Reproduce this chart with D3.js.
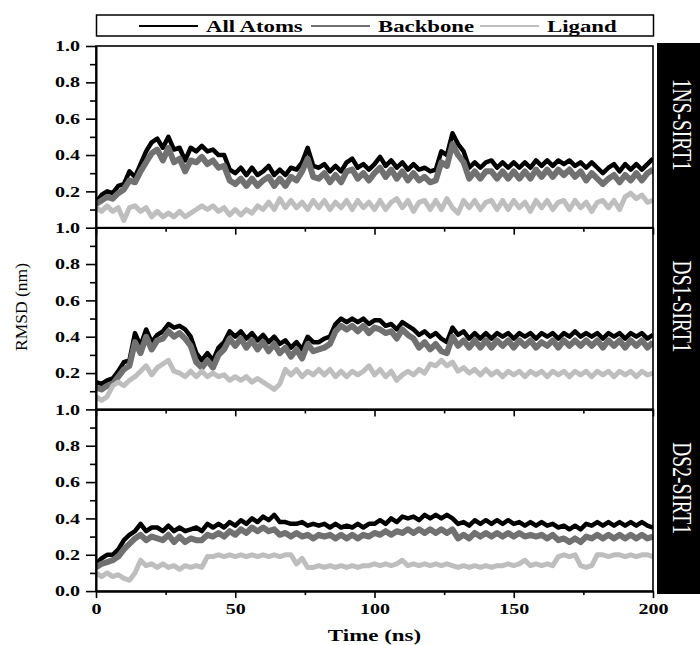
<!DOCTYPE html>
<html>
<head>
<meta charset="utf-8">
<script src="https://cdn.jsdelivr.net/npm/d3@7"></script>
<style>
  body { margin: 0; background: #fff; }
  svg { display: block; font-family: 'Liberation Serif', 'Times New Roman', serif; }
</style>
</head>
<body>
<svg id="chart" width="700" height="645"></svg>
<script>
// ---- data (RMSD in nm, one sample every 2 ns) ----
const timeStep = 2;
const panelNames = ['1NS-SIRT1', 'DS1-SIRT1', 'DS2-SIRT1'];
const seriesNames = ['All Atoms', 'Backbone', 'Ligand'];
const seriesColors = ['#000000', '#717171', '#bebebe'];
const seriesWidths = [4.5, 6, 5];
const xTicks = [0, 50, 100, 150, 200];
const xMinorTicks = [25, 75, 125, 175];
const yTicks = [0.2, 0.4, 0.6, 0.8, 1.0];
const yMinorTicks = [0.1, 0.3, 0.5, 0.7, 0.9];

const allAtoms1 = [
  0.14, 0.18, 0.20, 0.19, 0.23, 0.24, 0.31, 0.28, 0.35, 0.42, 0.47,
  0.49, 0.44, 0.50, 0.43, 0.44, 0.37, 0.44, 0.42, 0.45, 0.42,
  0.43, 0.40, 0.40, 0.32, 0.30, 0.33, 0.29, 0.33, 0.29, 0.31,
  0.34, 0.29, 0.32, 0.29, 0.33, 0.32, 0.36, 0.44, 0.34, 0.33,
  0.35, 0.31, 0.34, 0.31, 0.36, 0.38, 0.33, 0.35, 0.32, 0.35,
  0.39, 0.34, 0.37, 0.33, 0.36, 0.32, 0.35, 0.32, 0.33, 0.31,
  0.32, 0.42, 0.40, 0.52, 0.46, 0.42, 0.33, 0.36, 0.33, 0.36,
  0.37, 0.33, 0.36, 0.33, 0.36, 0.33, 0.36, 0.33, 0.37, 0.34,
  0.37, 0.34, 0.37, 0.35, 0.37, 0.34, 0.36, 0.33, 0.36, 0.33,
  0.30, 0.33, 0.35, 0.31, 0.35, 0.32, 0.35, 0.32, 0.35, 0.38
];
const backbone1 = [
  0.13, 0.15, 0.17, 0.16, 0.19, 0.21, 0.26, 0.25, 0.31, 0.36, 0.41,
  0.43, 0.37, 0.44, 0.36, 0.38, 0.31, 0.37, 0.36, 0.39, 0.35,
  0.37, 0.33, 0.34, 0.26, 0.24, 0.27, 0.23, 0.27, 0.23, 0.26,
  0.28, 0.23, 0.27, 0.23, 0.28, 0.26, 0.31, 0.38, 0.28, 0.27,
  0.30, 0.25, 0.29, 0.25, 0.31, 0.32, 0.27, 0.30, 0.26, 0.30,
  0.33, 0.28, 0.32, 0.27, 0.31, 0.26, 0.30, 0.26, 0.28, 0.25,
  0.26, 0.36, 0.34, 0.46, 0.40, 0.36, 0.27, 0.31, 0.27, 0.31,
  0.31, 0.27, 0.31, 0.27, 0.31, 0.27, 0.31, 0.27, 0.32, 0.28,
  0.32, 0.28, 0.32, 0.29, 0.32, 0.28, 0.31, 0.26, 0.30, 0.27,
  0.24, 0.27, 0.29, 0.25, 0.29, 0.26, 0.30, 0.26, 0.30, 0.32
];
const ligand1 = [
  0.11, 0.09, 0.12, 0.09, 0.11, 0.04, 0.11, 0.12, 0.09, 0.11, 0.06,
  0.09, 0.06, 0.08, 0.06, 0.09, 0.06, 0.08, 0.10, 0.12, 0.10,
  0.12, 0.09, 0.11, 0.07, 0.10, 0.07, 0.10, 0.08, 0.12, 0.10,
  0.14, 0.10, 0.16, 0.11, 0.15, 0.11, 0.14, 0.10, 0.15, 0.11,
  0.15, 0.10, 0.14, 0.11, 0.15, 0.10, 0.15, 0.11, 0.14, 0.10,
  0.15, 0.10, 0.14, 0.16, 0.11, 0.15, 0.09, 0.14, 0.15, 0.10,
  0.15, 0.10, 0.16, 0.11, 0.08, 0.15, 0.11, 0.15, 0.10, 0.14,
  0.15, 0.10, 0.15, 0.10, 0.15, 0.11, 0.14, 0.09, 0.15, 0.11,
  0.15, 0.10, 0.14, 0.15, 0.10, 0.15, 0.11, 0.14, 0.09, 0.14,
  0.15, 0.11, 0.15, 0.10, 0.17, 0.19, 0.16, 0.18, 0.14, 0.15
];

const allAtoms2 = [
  0.15, 0.14, 0.16, 0.17, 0.21, 0.26, 0.27, 0.42, 0.35, 0.44, 0.37,
  0.41, 0.43, 0.47, 0.45, 0.46, 0.44, 0.40, 0.31, 0.27, 0.31,
  0.27, 0.34, 0.37, 0.43, 0.40, 0.43, 0.39, 0.42, 0.38, 0.41,
  0.37, 0.40, 0.36, 0.38, 0.34, 0.37, 0.33, 0.40, 0.37, 0.37,
  0.39, 0.40, 0.47, 0.50, 0.48, 0.50, 0.48, 0.50, 0.47, 0.49,
  0.49, 0.46, 0.47, 0.44, 0.48, 0.46, 0.44, 0.41, 0.43, 0.40,
  0.42, 0.39, 0.37, 0.45, 0.41, 0.43, 0.39, 0.42, 0.39, 0.42,
  0.39, 0.42, 0.40, 0.42, 0.39, 0.42, 0.40, 0.42, 0.39, 0.42,
  0.40, 0.42, 0.39, 0.42, 0.40, 0.43, 0.40, 0.42, 0.40, 0.42,
  0.39, 0.42, 0.40, 0.42, 0.39, 0.42, 0.40, 0.42, 0.39, 0.41
];
const backbone2 = [
  0.12, 0.11, 0.13, 0.14, 0.18, 0.22, 0.24, 0.37, 0.31, 0.40, 0.33,
  0.38, 0.39, 0.43, 0.40, 0.42, 0.39, 0.35, 0.26, 0.23, 0.27,
  0.23, 0.30, 0.33, 0.39, 0.35, 0.39, 0.34, 0.38, 0.33, 0.37,
  0.32, 0.36, 0.31, 0.34, 0.29, 0.33, 0.28, 0.36, 0.32, 0.33,
  0.34, 0.36, 0.43, 0.46, 0.44, 0.46, 0.43, 0.46, 0.42, 0.45,
  0.44, 0.42, 0.43, 0.39, 0.44, 0.41, 0.39, 0.34, 0.37, 0.33,
  0.36, 0.32, 0.31, 0.40, 0.35, 0.38, 0.34, 0.38, 0.34, 0.38,
  0.34, 0.38, 0.35, 0.38, 0.34, 0.38, 0.35, 0.38, 0.34, 0.37,
  0.35, 0.38, 0.34, 0.38, 0.35, 0.38, 0.35, 0.38, 0.35, 0.38,
  0.34, 0.38, 0.35, 0.38, 0.34, 0.38, 0.35, 0.38, 0.34, 0.37
];
const ligand2 = [
  0.07, 0.05, 0.07, 0.13, 0.15, 0.13, 0.16, 0.18, 0.21, 0.24, 0.19,
  0.23, 0.25, 0.27, 0.21, 0.20, 0.18, 0.21, 0.18, 0.21, 0.18,
  0.20, 0.18, 0.19, 0.16, 0.18, 0.16, 0.18, 0.15, 0.17, 0.15,
  0.13, 0.11, 0.14, 0.22, 0.19, 0.22, 0.18, 0.21, 0.19, 0.22,
  0.19, 0.22, 0.18, 0.21, 0.18, 0.21, 0.19, 0.21, 0.24, 0.19,
  0.22, 0.18, 0.21, 0.16, 0.19, 0.21, 0.19, 0.22, 0.20, 0.25,
  0.24, 0.27, 0.24, 0.26, 0.21, 0.23, 0.20, 0.22, 0.19, 0.22,
  0.19, 0.21, 0.18, 0.21, 0.19, 0.21, 0.18, 0.21, 0.19, 0.21,
  0.18, 0.21, 0.19, 0.21, 0.18, 0.21, 0.19, 0.21, 0.18, 0.21,
  0.19, 0.21, 0.18, 0.21, 0.19, 0.21, 0.18, 0.21, 0.19, 0.20
];

const allAtoms3 = [
  0.15, 0.18, 0.20, 0.20, 0.23, 0.28, 0.31, 0.33, 0.37, 0.33, 0.35,
  0.35, 0.33, 0.36, 0.33, 0.35, 0.33, 0.34, 0.35, 0.33, 0.37,
  0.35, 0.37, 0.35, 0.38, 0.36, 0.39, 0.37, 0.40, 0.38, 0.41,
  0.39, 0.42, 0.38, 0.38, 0.37, 0.37, 0.38, 0.36, 0.37, 0.36,
  0.37, 0.35, 0.37, 0.35, 0.36, 0.35, 0.37, 0.35, 0.37, 0.37,
  0.39, 0.37, 0.40, 0.38, 0.41, 0.40, 0.41, 0.39, 0.42, 0.40,
  0.42, 0.40, 0.42, 0.40, 0.37, 0.38, 0.36, 0.39, 0.37, 0.39,
  0.37, 0.39, 0.37, 0.39, 0.37, 0.38, 0.36, 0.38, 0.36, 0.38,
  0.36, 0.37, 0.35, 0.36, 0.34, 0.36, 0.34, 0.37, 0.36, 0.38,
  0.36, 0.38, 0.36, 0.38, 0.36, 0.38, 0.36, 0.38, 0.36, 0.35
];
const backbone3 = [
  0.13, 0.15, 0.16, 0.17, 0.19, 0.23, 0.26, 0.29, 0.31, 0.28, 0.30,
  0.29, 0.28, 0.31, 0.27, 0.30, 0.27, 0.29, 0.28, 0.28, 0.31,
  0.30, 0.32, 0.30, 0.33, 0.31, 0.34, 0.32, 0.35, 0.33, 0.35,
  0.33, 0.34, 0.31, 0.32, 0.30, 0.32, 0.30, 0.31, 0.29, 0.31,
  0.30, 0.31, 0.29, 0.31, 0.29, 0.31, 0.29, 0.31, 0.30, 0.32,
  0.31, 0.33, 0.31, 0.33, 0.32, 0.34, 0.32, 0.34, 0.32, 0.34,
  0.32, 0.34, 0.32, 0.34, 0.29, 0.31, 0.29, 0.32, 0.30, 0.32,
  0.30, 0.32, 0.30, 0.32, 0.30, 0.32, 0.30, 0.31, 0.30, 0.31,
  0.29, 0.31, 0.28, 0.29, 0.27, 0.29, 0.27, 0.30, 0.29, 0.31,
  0.29, 0.31, 0.29, 0.31, 0.29, 0.31, 0.29, 0.31, 0.29, 0.30
];
const ligand3 = [
  0.10, 0.08, 0.10, 0.08, 0.09, 0.07, 0.06, 0.10, 0.17, 0.14, 0.15,
  0.13, 0.15, 0.13, 0.14, 0.12, 0.14, 0.13, 0.14, 0.13, 0.19,
  0.19, 0.20, 0.19, 0.20, 0.19, 0.20, 0.19, 0.20, 0.19, 0.20,
  0.19, 0.20, 0.19, 0.20, 0.20, 0.15, 0.18, 0.13, 0.13, 0.14,
  0.13, 0.14, 0.13, 0.14, 0.13, 0.14, 0.13, 0.14, 0.14, 0.15,
  0.14, 0.15, 0.14, 0.15, 0.17, 0.14, 0.15, 0.14, 0.15, 0.14,
  0.15, 0.14, 0.15, 0.14, 0.13, 0.14, 0.13, 0.14, 0.13, 0.14,
  0.13, 0.14, 0.14, 0.15, 0.14, 0.15, 0.17, 0.14, 0.15, 0.14,
  0.15, 0.14, 0.19, 0.20, 0.19, 0.20, 0.14, 0.13, 0.14, 0.20,
  0.20, 0.19, 0.20, 0.20, 0.19, 0.20, 0.19, 0.20, 0.20, 0.19
];

const panelSeries = [
  [allAtoms1, backbone1, ligand1],
  [allAtoms2, backbone2, ligand2],
  [allAtoms3, backbone3, ligand3]
];

// ---- layout ----
const plotLeft = 96;
const plotRight = 653;
const plotTop = 46;
const panelH = 181.7;
const sx = 1.38; // the figure is stretched horizontally, so is its text

const svg = d3.select('#chart');

const x = d3.scaleLinear().domain([0, 200]).range([plotLeft, plotRight]);

// right-hand black strip with the system names
svg.append('rect')
  .attr('x', 657)
  .attr('y', 43)
  .attr('width', 43)
  .attr('height', 551)
  .attr('fill', '#000');

panelNames.forEach((name, i) => {
  const y0 = plotTop + i * panelH;
  const y = d3.scaleLinear().domain([0, 1]).range([y0 + panelH, y0]);
  const g = svg.append('g');

  // keep the thick strokes inside the panel
  const clipId = 'clip' + i;
  g.append('clipPath')
    .attr('id', clipId)
    .append('rect')
    .attr('x', plotLeft)
    .attr('y', y0)
    .attr('width', plotRight - plotLeft)
    .attr('height', panelH);

  // series: all atoms first, ligand last
  const lines = g.append('g').attr('clip-path', `url(#${clipId})`);
  panelSeries[i].forEach((vals, k) => {
    const line = d3.line()
      .x((d, j) => x(j * timeStep))
      .y(d => y(d));
    lines.append('path')
      .datum(vals)
      .attr('d', line)
      .attr('fill', 'none')
      .attr('stroke', seriesColors[k])
      .attr('stroke-width', seriesWidths[k])
      .attr('stroke-linejoin', 'round');
  });

  // frame
  g.append('rect')
    .attr('x', plotLeft)
    .attr('y', y0)
    .attr('width', plotRight - plotLeft)
    .attr('height', panelH)
    .attr('fill', 'none')
    .attr('stroke', '#000')
    .attr('stroke-width', 1.6);

  // y axis, major + minor
  const yAxis = g.append('g')
    .attr('transform', `translate(${plotLeft},0)`)
    .call(d3.axisLeft(y)
      .tickValues(i === 2 ? [0].concat(yTicks) : yTicks)
      .tickSize(10)
      .tickSizeOuter(0)
      .tickPadding(2)
      .tickFormat(d3.format('.1f')));
  g.append('g')
    .attr('transform', `translate(${plotLeft},0)`)
    .call(d3.axisLeft(y).tickValues(yMinorTicks).tickSize(6).tickSizeOuter(0).tickFormat(''));

  // x axis ticks below every panel, labels only on the last one
  const xAxis = g.append('g')
    .attr('transform', `translate(0,${y0 + panelH})`)
    .call(d3.axisBottom(x)
      .tickValues(xTicks)
      .tickSize(7)
      .tickSizeOuter(0)
      .tickPadding(6)
      .tickFormat(i === 2 ? d3.format('d') : ''));
  g.append('g')
    .attr('transform', `translate(0,${y0 + panelH})`)
    .call(d3.axisBottom(x).tickValues(xMinorTicks).tickSize(4).tickSizeOuter(0).tickFormat(''));

  g.selectAll('.domain, .tick line')
    .attr('stroke', '#000')
    .attr('stroke-width', 1.6);
  g.selectAll('.tick text')
    .attr('fill', '#000')
    .style('font-family', "'Liberation Serif', serif")
    .style('font-weight', 'bold')
    .style('font-size', '14.5px');
  yAxis.selectAll('.tick text')
    .attr('x', -11.6)
    .attr('transform', `scale(${sx},1)`);
  xAxis.selectAll('.tick text')
    .attr('transform', `scale(${sx},1)`);

  // system name, reading downwards
  svg.append('text')
    .attr('transform', `translate(673,${y0 + panelH / 2 - 12}) rotate(90) scale(1,1.4)`)
    .attr('text-anchor', 'middle')
    .attr('fill', '#fff')
    .style('font-size', '19.5px')
    .text(name);
});

// axis titles
svg.append('text')
  .attr('transform', `translate(${(plotLeft + plotRight) / 2},641) scale(1.35,1)`)
  .attr('text-anchor', 'middle')
  .style('font-size', '17px')
  .style('font-weight', 'bold')
  .text('Time (ns)');

svg.append('text')
  .attr('transform', 'translate(27,307) rotate(-90)')
  .attr('text-anchor', 'middle')
  .style('font-size', '17.5px')
  .text('RMSD (nm)');

// legend
const legend = svg.append('g');
legend.append('rect')
  .attr('x', 96.5)
  .attr('y', 15)
  .attr('width', 557)
  .attr('height', 21)
  .attr('fill', '#fff')
  .attr('stroke', '#000')
  .attr('stroke-width', 1.5);

const legendLineX = [139, 311, 480];
seriesNames.forEach((name, k) => {
  legend.append('line')
    .attr('x1', legendLineX[k])
    .attr('x2', legendLineX[k] + 59)
    .attr('y1', 26)
    .attr('y2', 26)
    .attr('stroke', seriesColors[k])
    .attr('stroke-width', 2);
  legend.append('text')
    .attr('transform', `translate(${legendLineX[k] + 67},31.5) scale(${sx},1)`)
    .style('font-size', '16.5px')
    .style('font-weight', 'bold')
    .text(name);
});
</script>
</body>
</html>
